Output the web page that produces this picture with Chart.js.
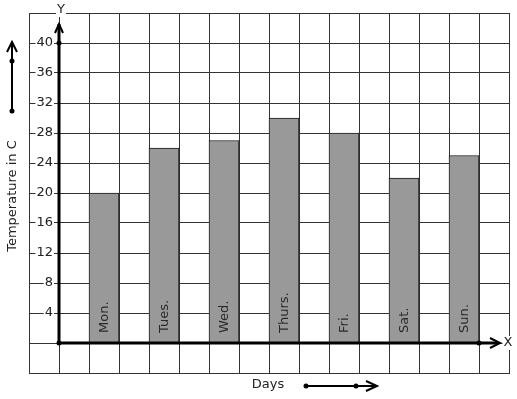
<!DOCTYPE html>
<html>
<head>
<meta charset="utf-8">
<script src="https://cdn.jsdelivr.net/npm/chart.js@4/dist/chart.umd.min.js"></script>
<style>
  body { margin: 0; background: #fff; }
</style>
</head>
<body>
<canvas id="chart" width="517" height="399"></canvas>
<script>
// data
const days = ['Mon.', 'Tues.', 'Wed.', 'Thurs.', 'Fri.', 'Sat.', 'Sun.'];
const temperatures = [20, 26, 27, 30, 28, 22, 25];
const yTickLabels = [4, 8, 12, 16, 20, 24, 28, 32, 36, 40];

const FONT = '13px "DejaVu Sans"';

// each day sits on every second grid cell, starting at the second one
const points = days.map((d, i) => ({ x: 2 * i + 1.5, y: temperatures[i] }));

function textWithBg(ctx, text, px, py, align) {
  const w = ctx.measureText(text).width;
  let left = px;
  if (align === 'right') left = px - w;
  if (align === 'center') left = px - w / 2;
  ctx.fillStyle = '#fff';
  ctx.fillRect(left - 1, py - 7, w + 2, 14);
  ctx.fillStyle = '#222';
  ctx.textAlign = align;
  ctx.textBaseline = 'middle';
  ctx.fillText(text, px, py);
}

function dot(ctx, px, py) {
  ctx.beginPath();
  ctx.arc(px, py, 2.5, 0, Math.PI * 2);
  ctx.fill();
}

const drawingPlugin = {
  id: 'drawing',
  afterDatasetsDraw(chart) {
    const { ctx, scales: { y } } = chart;
    const meta = chart.getDatasetMeta(0);
    ctx.save();
    ctx.font = FONT;
    ctx.fillStyle = '#2a2a2a';
    ctx.textAlign = 'left';
    ctx.textBaseline = 'middle';
    meta.data.forEach((bar, i) => {
      ctx.save();
      ctx.translate(bar.x + 1, y.getPixelForValue(0) - 10);
      ctx.rotate(-Math.PI / 2);
      ctx.fillText(days[i], 0, 0);
      ctx.restore();
    });
    ctx.restore();
  },
  afterDraw(chart) {
    const { ctx, chartArea, scales: { x, y } } = chart;
    const ox = x.getPixelForValue(0);
    const oy = y.getPixelForValue(0);
    ctx.save();
    ctx.strokeStyle = '#000';
    ctx.fillStyle = '#000';
    ctx.lineCap = 'butt';

    // y axis
    const yTop = chartArea.top + 11;
    ctx.lineWidth = 3;
    ctx.beginPath();
    ctx.moveTo(ox, oy);
    ctx.lineTo(ox, yTop);
    ctx.stroke();
    ctx.lineWidth = 2;
    ctx.beginPath();
    ctx.moveTo(ox - 4, yTop + 9);
    ctx.lineTo(ox, yTop);
    ctx.lineTo(ox + 4, yTop + 9);
    ctx.stroke();
    dot(ctx, ox, y.getPixelForValue(40));

    // x axis
    const xEnd = x.getPixelForValue(14.7);
    ctx.lineWidth = 3;
    ctx.beginPath();
    ctx.moveTo(ox, oy);
    ctx.lineTo(xEnd - 2, oy);
    ctx.stroke();
    ctx.lineWidth = 2;
    ctx.beginPath();
    ctx.moveTo(xEnd - 10, oy - 5);
    ctx.lineTo(xEnd, oy);
    ctx.lineTo(xEnd - 10, oy + 5);
    ctx.stroke();
    dot(ctx, x.getPixelForValue(14), oy);
    dot(ctx, ox, oy);

    // tick labels on the y axis
    ctx.font = FONT;
    yTickLabels.forEach(v => {
      textWithBg(ctx, String(v), ox - 6, y.getPixelForValue(v), 'right');
    });

    // axis letters
    textWithBg(ctx, 'Y', ox + 2, chartArea.top - 3, 'center');
    textWithBg(ctx, 'X', chartArea.right - 1, oy, 'center');

    // y title with its arrow
    ctx.save();
    ctx.translate(13, 196);
    ctx.rotate(-Math.PI / 2);
    ctx.fillStyle = '#222';
    ctx.textAlign = 'center';
    ctx.textBaseline = 'middle';
    ctx.fillText('Temperature in C', 0, 0);
    ctx.restore();

    ctx.strokeStyle = '#000';
    ctx.fillStyle = '#000';
    ctx.lineWidth = 2;
    ctx.beginPath();
    ctx.moveTo(12, 111);
    ctx.lineTo(12, 43);
    ctx.stroke();
    ctx.beginPath();
    ctx.moveTo(7, 52);
    ctx.lineTo(12, 42);
    ctx.lineTo(17, 52);
    ctx.stroke();
    dot(ctx, 12, 61);
    dot(ctx, 12, 111);

    // x title with its arrow
    ctx.fillStyle = '#222';
    ctx.textAlign = 'center';
    ctx.textBaseline = 'middle';
    ctx.fillText('Days', 268, 385);
    ctx.fillStyle = '#000';
    ctx.beginPath();
    ctx.moveTo(306, 386);
    ctx.lineTo(376, 386);
    ctx.stroke();
    ctx.beginPath();
    ctx.moveTo(366, 381);
    ctx.lineTo(377, 386);
    ctx.lineTo(366, 391);
    ctx.stroke();
    dot(ctx, 306, 386);
    dot(ctx, 356, 386);

    ctx.restore();
  }
};

new Chart(document.getElementById('chart'), {
  type: 'bar',
  data: {
    datasets: [{
      data: points,
      backgroundColor: '#999999',
      borderColor: '#1a1a1a',
      borderWidth: 1,
      categoryPercentage: 1,
      barPercentage: 1
    }]
  },
  options: {
    responsive: false,
    animation: false,
    devicePixelRatio: 1,
    layout: { padding: { left: 29, top: 13, right: 8, bottom: 26 } },
    plugins: { legend: { display: false }, tooltip: { enabled: false } },
    scales: {
      x: {
        type: 'linear',
        min: -1,
        max: 15,
        offset: false,
        ticks: { display: false, stepSize: 1 },
        grid: { color: '#333', lineWidth: 1, drawTicks: false, offset: false },
        border: { color: '#333', width: 1 }
      },
      y: {
        min: -4,
        max: 44,
        ticks: { display: false, stepSize: 4 },
        grid: { color: '#333', lineWidth: 1, drawTicks: false },
        border: { color: '#333', width: 1 }
      }
    }
  },
  plugins: [drawingPlugin]
});
</script>
</body>
</html>
